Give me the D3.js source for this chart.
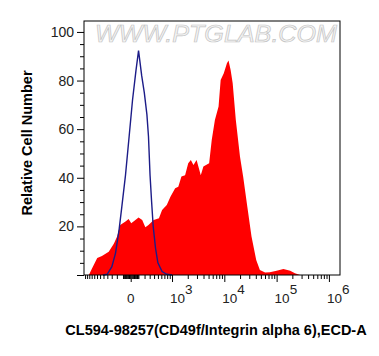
<!DOCTYPE html>
<html>
<head>
<meta charset="utf-8">
<script src="https://cdn.jsdelivr.net/npm/d3@7"></script>
<style>
  body { margin: 0; background: #fff; }
  svg { display: block; }
</style>
</head>
<body>
<svg id="chart" width="379" height="356"></svg>
<script>
// x values are display positions in decades (logicle-like axis), y = % of max
var redX = [1.41, 1.47, 1.57, 1.66, 1.79, 1.89, 1.95, 2.01, 2.11, 2.17, 2.22, 2.30, 2.36, 2.43,
  2.49, 2.55, 2.65, 2.75, 2.81, 2.90, 2.97, 3.06, 3.12, 3.18, 3.25, 3.31, 3.36, 3.41, 3.47,
  3.55, 3.60, 3.65, 3.71, 3.76, 3.82, 3.89, 3.93, 3.99, 4.05, 4.08, 4.12, 4.16, 4.22, 4.30,
  4.36, 4.44, 4.52, 4.61, 4.68, 4.78, 4.87, 5.00, 5.13, 5.26, 5.35, 5.45];
var redY = [0, 2.7, 7, 7.8, 9.6, 13, 15.8, 20.6, 22, 23, 21.3, 22.6, 23.7, 22.6,
  19.6, 20.6, 22.6, 23.3, 26.7, 28.8, 32.2, 35.7, 36.3, 40.5, 41, 46, 47.3, 45.3, 47.3,
  41, 44.6, 45.3, 46, 55.6, 63.8, 69.3, 80.2, 83, 87.1, 88.2, 84.4, 78.9, 63.8, 48.7,
  40.5, 28.1, 15.8, 6.2, 2.1, 1, 1.1, 1.8, 2.5, 1.8, 0.7, 0];

var blueX = [1.68, 1.76, 1.85, 1.92, 1.99, 2.04, 2.11, 2.18, 2.245, 2.31, 2.36, 2.42, 2.47,
  2.52, 2.55, 2.58, 2.61, 2.64, 2.685, 2.73, 2.81, 2.90, 3.00];
var blueY = [0, 0.3, 3.4, 9, 19, 28, 41, 57, 72, 84, 92.3, 82, 75,
  66, 57, 41, 30, 20, 11, 5, 1.4, 0.3, 0];

var yTicks = [0, 20, 40, 60, 80, 100];
var yLabels = ['', '20', '40', '60', '80', '100'];
var xMajor = [0, 1e3, 1e4, 1e5, 1e6];
var xLabels = [['0', ''], ['10', '3'], ['10', '4'], ['10', '5'], ['10', '6']];

// raw value -> display decades
function T(v) {
  if (v >= 1000) return Math.log10(v);
  return Math.sign(v) * 1.35 * Math.log10(1 + Math.abs(v) / 350) + 2.21;
}

var m = { l: 84, r: 340, t: 21, b: 275 };
var x = d3.scaleLinear().domain([1.317, 6.212]).range([m.l, m.r]);
var y = d3.scaleLinear().domain([0, 104.5]).range([m.b, m.t]);

var svg = d3.select('#chart');
var font = 'Liberation Sans, Arial, sans-serif';

// watermark
svg.append('text')
  .attr('x', 95).attr('y', 42)
  .attr('textLength', 242).attr('lengthAdjust', 'spacingAndGlyphs')
  .attr('font-family', font).attr('font-size', 24).attr('font-style', 'italic')
  .attr('fill', '#f4f4f4').attr('stroke', '#c4c4c4').attr('stroke-width', 0.7)
  .text('WWW.PTGLAB.COM');

var red = redX.map((d, i) => [d, redY[i]]);
var blue = blueX.map((d, i) => [d, blueY[i]]);

svg.append('path')
  .attr('d', d3.area().x((d) => x(d[0])).y0(y(0)).y1((d) => y(d[1]))(red))
  .attr('fill', '#ff0000');

svg.append('path')
  .attr('d', d3.line().x((d) => x(d[0])).y((d) => y(d[1]))(blue))
  .attr('fill', 'none')
  .attr('stroke', '#1c1c88')
  .attr('stroke-width', 1.4);

// frame
svg.append('rect')
  .attr('x', m.l).attr('y', m.t)
  .attr('width', m.r - m.l).attr('height', m.b - m.t)
  .attr('fill', 'none').attr('stroke', '#000').attr('stroke-width', 1);

// y axis
var yMinor = d3.range(5, 101, 5).filter((v) => v % 20 !== 0);
svg.append('g').attr('transform', 'translate(' + m.l + ',0)')
  .call(d3.axisLeft(y).tickValues(yMinor).tickSize(4).tickFormat(''))
  .call((g) => g.select('.domain').remove());
svg.append('g').attr('transform', 'translate(' + m.l + ',0)')
  .call(d3.axisLeft(y).tickValues(yTicks).tickSize(7).tickPadding(3)
    .tickFormat((d, i) => yLabels[i]))
  .call((g) => g.select('.domain').remove())
  .selectAll('text')
  .attr('font-family', font).attr('font-size', 14).attr('fill', '#222');

// x axis
var xMinor = d3.range(-1200, 0, 100)
  .concat(d3.range(-90, 100, 10))
  .concat(d3.range(100, 1000, 100));
[1e3, 1e4, 1e5].forEach((p) => {
  for (var k = 2; k < 10; k++) xMinor.push(k * p);
});
xMinor = xMinor.filter((v) => v !== 0).map(T).filter((d) => d > 1.33 && d < 6.2);

svg.append('g').attr('transform', 'translate(0,' + m.b + ')')
  .call(d3.axisBottom(x).tickValues(xMinor).tickSize(4).tickFormat(''))
  .call((g) => g.select('.domain').remove());
svg.append('g').attr('transform', 'translate(0,' + m.b + ')')
  .call(d3.axisBottom(x).tickValues(xMajor.map(T)).tickSize(7).tickFormat(''))
  .call((g) => g.select('.domain').remove());

var lab = svg.append('g')
  .attr('font-family', font).attr('font-size', 13.5).attr('fill', '#222');
xMajor.forEach((v, i) => {
  var px = x(T(v));
  var t = lab.append('text').attr('y', 303);
  if (xLabels[i][1] === '') {
    t.attr('x', px).attr('text-anchor', 'middle').text(xLabels[i][0]);
  } else {
    t.attr('x', px - 2).text(xLabels[i][0]);
    t.append('tspan').attr('dy', -9).text(xLabels[i][1]);
  }
});

// titles
svg.append('text')
  .attr('transform', 'translate(32,143) rotate(-90)')
  .attr('text-anchor', 'middle')
  .attr('font-family', font).attr('font-size', 14.5).attr('font-weight', 'bold')
  .text('Relative Cell Number');

svg.append('text')
  .attr('x', 216).attr('y', 335)
  .attr('text-anchor', 'middle')
  .attr('font-family', font).attr('font-size', 14.5).attr('font-weight', 'bold')
  .text('CL594-98257(CD49f/Integrin alpha 6),ECD-A');
</script>
</body>
</html>
